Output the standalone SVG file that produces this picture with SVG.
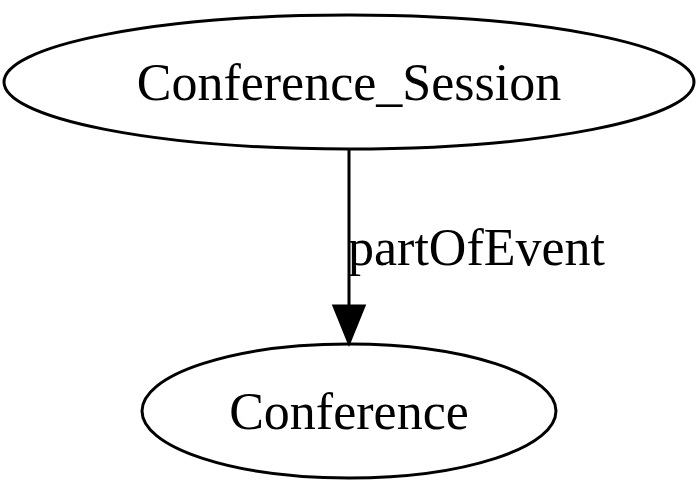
<svg xmlns="http://www.w3.org/2000/svg" width="700" height="495" viewBox="0 0 700 495">
<style>
.node ellipse{fill:none;stroke:#000;stroke-width:3}
text{font-family:"Liberation Serif","Times New Roman",serif;font-size:52px;fill:#000}
.edge line{stroke:#000;stroke-width:3}
.edge polygon{fill:#000;stroke:#000;stroke-width:3}
</style>
<rect width="700" height="495" fill="#fff"/>
<g id="node-conference-session" class="node">
<ellipse cx="349" cy="82" rx="345" ry="67"/>
<text x="349" y="100" text-anchor="middle">Conference_Session</text>
</g>
<g id="node-conference" class="node">
<ellipse cx="349" cy="411" rx="207" ry="67"/>
<text x="349" y="429" text-anchor="middle">Conference</text>
</g>
<g id="connectors" class="edge">
<line x1="349" y1="149" x2="349" y2="306"/>
<polygon points="334,306 364,306 349,343"/>
<text x="348" y="265">partOfEvent</text>
</g>
</svg>
